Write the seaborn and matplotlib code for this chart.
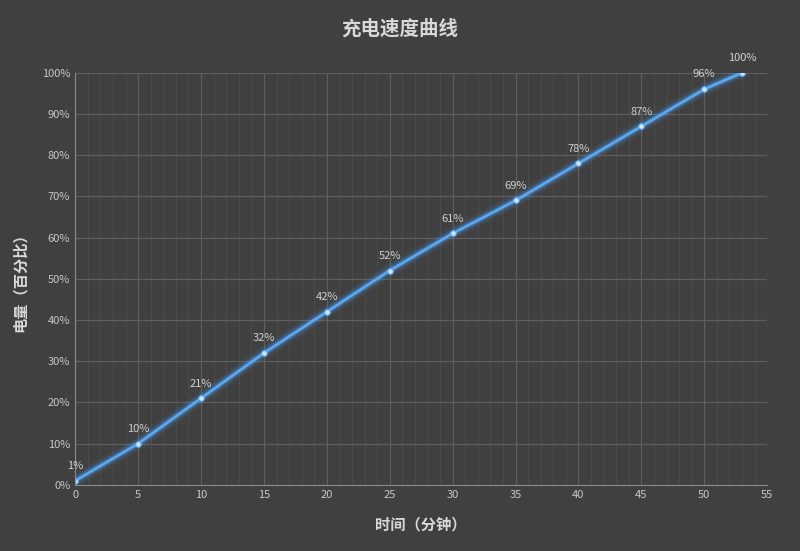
import matplotlib
matplotlib.use("Agg")
import matplotlib.pyplot as plt
import seaborn as sns
import pandas as pd
import numpy as np
from matplotlib.ticker import MultipleLocator, FuncFormatter

minutes = [0, 5, 10, 15, 20, 25, 30, 35, 40, 45, 50, 53]
charge = [1, 10, 21, 32, 42, 52, 61, 69, 78, 87, 96, 100]
labels = [f"{v}%" for v in charge]

sns.set_style("dark")
plt.rcParams['font.family'] = ['Noto Sans CJK SC', 'DejaVu Sans']
bg = "#404040"
fig = plt.figure(figsize=(8, 5.51), dpi=100, facecolor=bg)
ax = fig.add_axes([0.094, 0.12, 0.865, 0.748])
ax.set_facecolor(bg)
df = pd.DataFrame({"t": minutes, "c": charge})
for lw, a in [(9, 0.08), (6, 0.15), (4, 0.25)]:
    sns.lineplot(data=df, x="t", y="c", ax=ax, color="#4a9fff", lw=lw, alpha=a)
sns.lineplot(data=df, x="t", y="c", ax=ax, color="#5aa8f0", lw=2, marker="o",
             markersize=4, markerfacecolor="#cfe6ff", markeredgecolor="#5aa8f0")
for x, y, l in zip(minutes, charge, labels):
    ax.annotate(l, (x, y), xytext=(0, 7), textcoords="offset points", ha="center",
                va="bottom", color="#d0d0d0", fontsize=8)
ax.set_xlim(0, 55)
ax.set_ylim(0, 100)
ax.xaxis.set_major_locator(MultipleLocator(5))
ax.xaxis.set_minor_locator(MultipleLocator(1))
ax.yaxis.set_major_locator(MultipleLocator(10))
ax.yaxis.set_major_formatter(FuncFormatter(lambda v, p: f"{int(v)}%"))
ax.grid(which="major", color="#5e5e5e", lw=0.9)
ax.grid(which="minor", axis="x", color="#4c4c4c", lw=0.7)
ax.tick_params(colors="#c8c8c8", labelsize=8, length=0)
for s in ["top", "right"]:
    ax.spines[s].set_visible(False)
for s in ["left", "bottom"]:
    ax.spines[s].set_color("#8a8a8a")
ax.set_xlabel("时间（分钟）", color="#d8d8d8", fontsize=11, fontweight="bold", labelpad=12)
ax.set_ylabel("电量（百分比）", color="#d8d8d8", fontsize=11, fontweight="bold", labelpad=10)
fig.suptitle("充电速度曲线", color="#d8d8d8", fontsize=14, fontweight="bold", y=0.965)
fig.savefig("out.png", facecolor=bg)
